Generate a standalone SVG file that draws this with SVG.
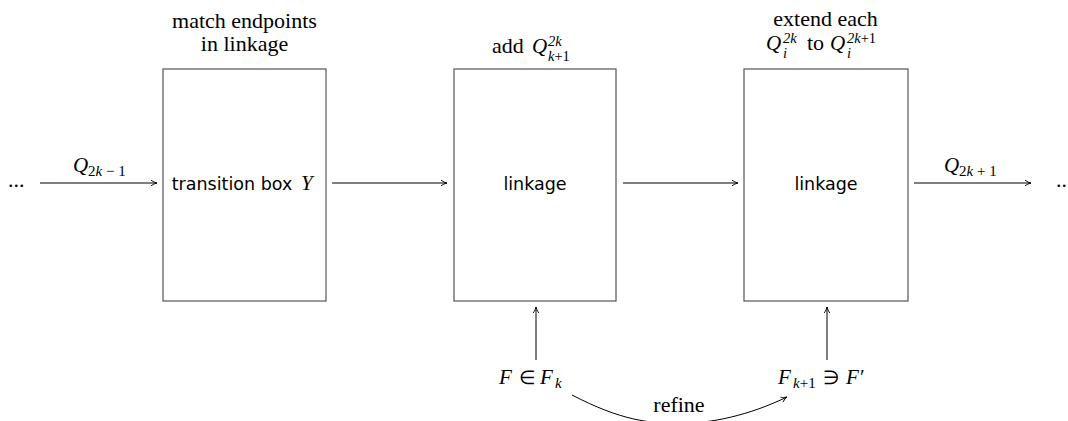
<svg xmlns="http://www.w3.org/2000/svg" width="1068" height="421" viewBox="0 0 1068 421">
<style>
.box{fill:#fff;stroke:#555;stroke-width:1.2}
.ln{fill:none;stroke:#000;stroke-width:1}
.serif{font-family:"Liberation Serif","Times New Roman",serif;font-size:22px;fill:#000}
.sans{font-family:"DejaVu Sans","Liberation Sans",sans-serif;font-size:17.5px;fill:#000}
.m{font-family:"Liberation Serif","Times New Roman",serif;font-style:italic;font-size:21px;fill:#000}
.sc{font-family:"Liberation Serif","Times New Roman",serif;font-size:14.5px;fill:#000}
.sl{font-family:"Liberation Serif","Times New Roman",serif;font-size:15px;fill:#000}
.rel{font-family:"Liberation Serif","Times New Roman",serif;font-size:19px;fill:#000}
.i{font-style:italic}
</style>
<defs>
<marker id="ah" viewBox="0 0 8 8" refX="7" refY="4" markerWidth="8" markerHeight="8" markerUnits="userSpaceOnUse" orient="auto">
<path d="M1,1.2 Q4,3.4 7,4 Q4,4.6 1,6.8" fill="none" stroke="#000" stroke-width="0.9"/>
</marker>
</defs>
<g id="dots-left"><text class="serif" x="8" y="187">...</text></g>
<g id="dots-right"><text class="serif" x="1056" y="187">..</text></g>
<g id="box1">
<rect class="box" x="163" y="69" width="163" height="232"/>
<text class="sans" x="232" y="190" text-anchor="middle">transition box</text>
<text class="m" x="301" y="190">Y</text>
<text class="serif" x="244.5" y="28" text-anchor="middle">match endpoints</text>
<text class="serif" x="244.5" y="51" text-anchor="middle">in linkage</text>
</g>
<g id="box2">
<rect class="box" x="454" y="69" width="162" height="232"/>
<text class="sans" x="535" y="190" text-anchor="middle">linkage</text>
<text class="serif" x="492" y="53">add</text>
<text class="m" x="532" y="53">Q</text>
<text class="sc i" x="548" y="45.5">2k</text>
<text class="sc" x="548" y="61"><tspan class="i">k</tspan>+1</text>
</g>
<g id="box3">
<rect class="box" x="744" y="69" width="164" height="232"/>
<text class="sans" x="826" y="190" text-anchor="middle">linkage</text>
<text class="serif" x="825.5" y="26" text-anchor="middle">extend each</text>
<text class="m" x="766" y="50">Q</text>
<text class="sc i" x="783" y="42.5">2k</text>
<text class="sc i" x="783" y="58">i</text>
<text class="serif" x="807" y="50">to</text>
<text class="m" x="830" y="50">Q</text>
<text class="sc" x="847" y="42.5"><tspan class="i">2k</tspan>+1</text>
<text class="sc i" x="847" y="58">i</text>
</g>
<g id="fk">
<text class="m" x="499" y="384">F</text>
<text class="rel" x="519" y="384">∈</text>
<text class="m" x="540" y="384">F</text>
<text class="sl i" x="555" y="388">k</text>
</g>
<g id="fk1">
<text class="m" x="778" y="384">F</text>
<text class="sl" x="793" y="388"><tspan class="i">k</tspan>+1</text>
<text class="rel" x="823" y="384">∋</text>
<text class="m" x="846" y="384">F′</text>
</g>
<g id="connectors">
<line class="ln" x1="40" y1="183" x2="157" y2="183" marker-end="url(#ah)"/>
<text class="m" x="73" y="172">Q</text>
<text class="sl" x="88" y="176">2<tspan class="i">k</tspan> − 1</text>
<line class="ln" x1="332" y1="183" x2="447" y2="183" marker-end="url(#ah)"/>
<line class="ln" x1="623" y1="183" x2="738" y2="183" marker-end="url(#ah)"/>
<line class="ln" x1="914" y1="183" x2="1031" y2="183" marker-end="url(#ah)"/>
<text class="m" x="944" y="172">Q</text>
<text class="sl" x="959" y="176">2<tspan class="i">k</tspan> + 1</text>
<line class="ln" x1="536" y1="360" x2="536" y2="307" marker-end="url(#ah)"/>
<line class="ln" x1="827" y1="360" x2="827" y2="307" marker-end="url(#ah)"/>
<path class="ln" d="M572,395 C620,420 650,424 680,423 C710,424 750,415 787,397" marker-end="url(#ah)"/>
<text class="serif" x="679" y="412" text-anchor="middle">refine</text>
</g>
</svg>
